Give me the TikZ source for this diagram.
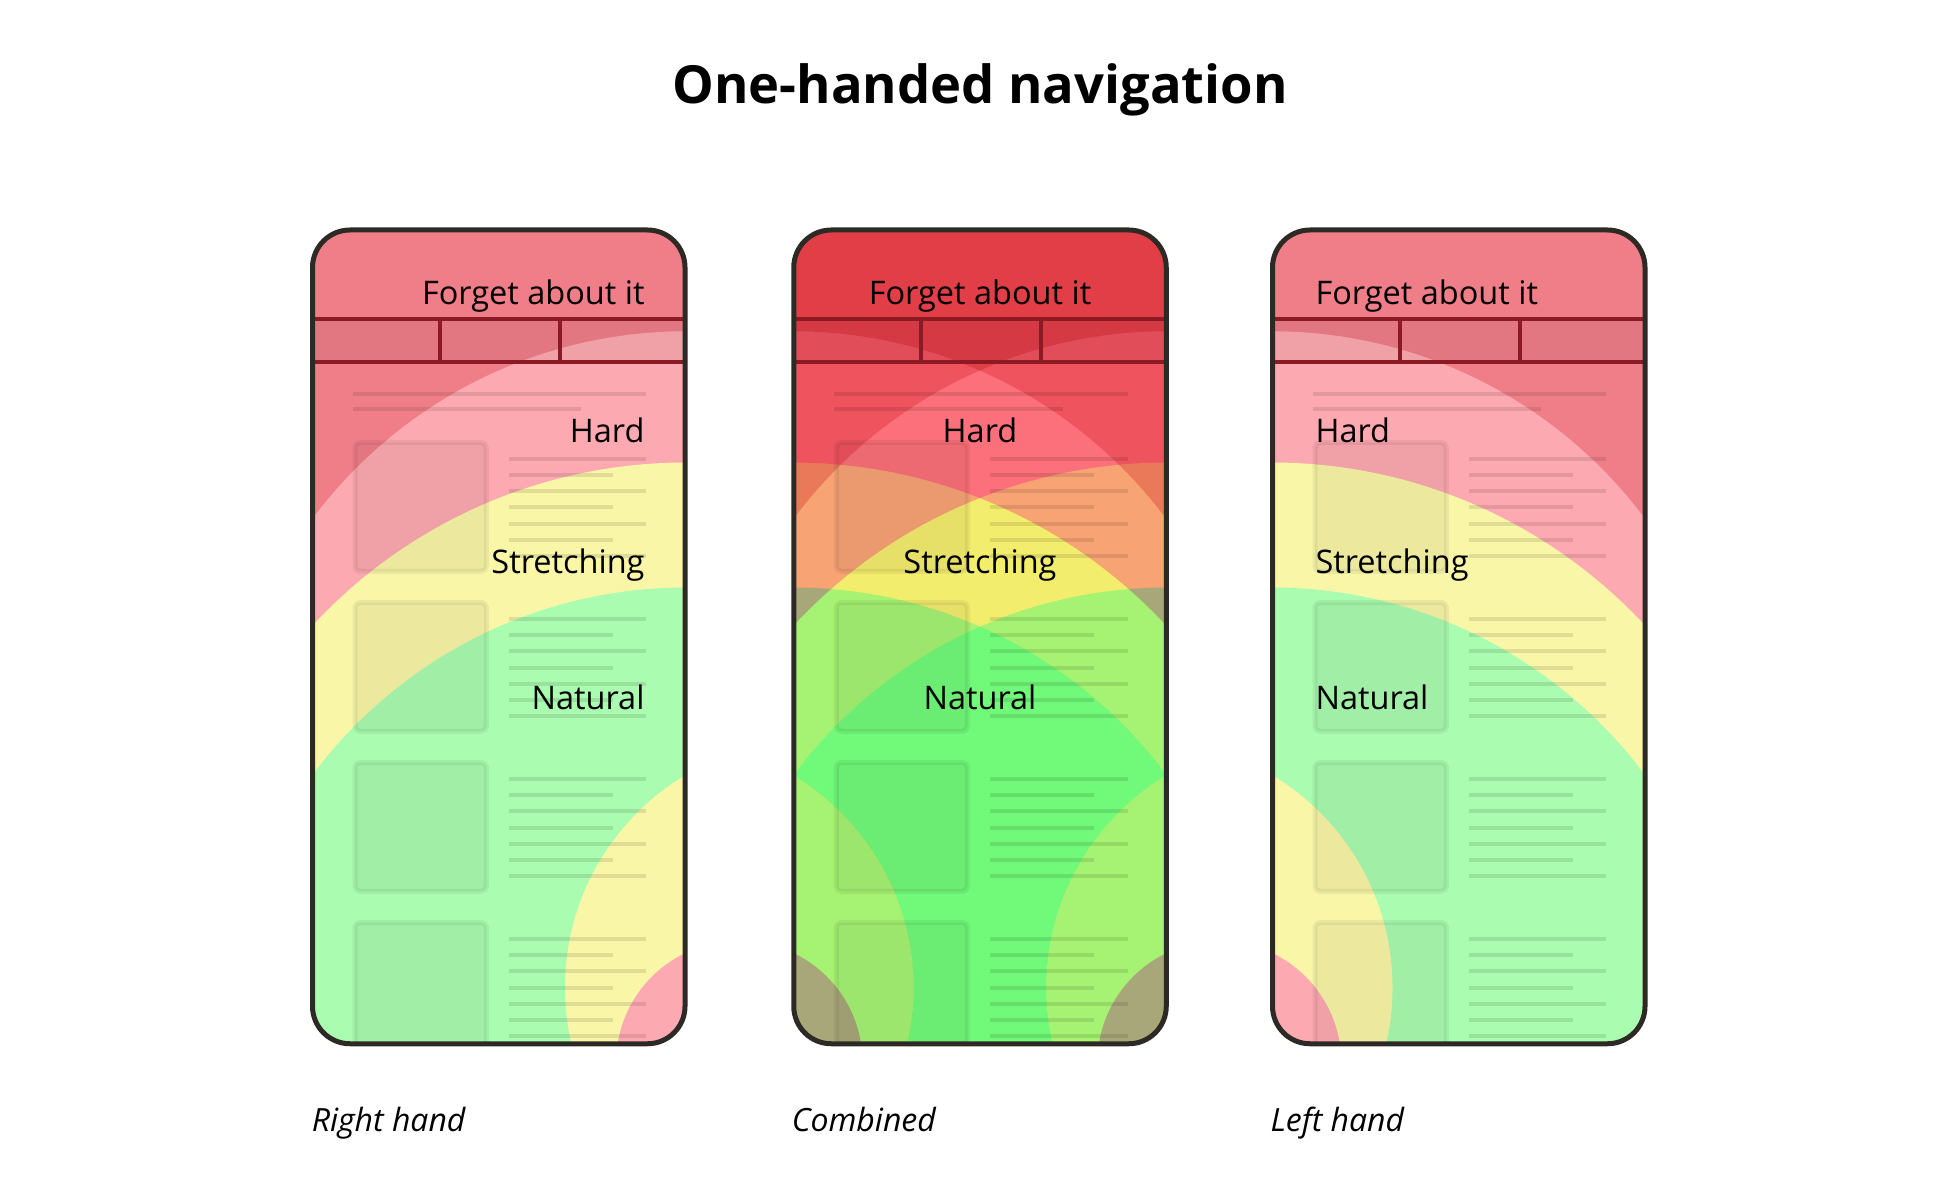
\documentclass[tikz,border=0pt]{standalone}
\usepackage{fontspec}
\setmainfont{Open Sans}
\definecolor{zred}{HTML}{F07E88}
\definecolor{zpink}{HTML}{FDA9B1}
\definecolor{zyel}{HTML}{F9F6A8}
\definecolor{zgreen}{HTML}{AAFCB0}
\definecolor{frame}{HTML}{2D2A26}
\definecolor{hdr}{HTML}{8B1A24}
\tikzset{
 ln/.style={line width=1.6pt, draw=black, draw opacity=0.1},
 bx/.style={fill=black, fill opacity=0.05, draw=black, draw opacity=0.06, line width=2pt, rounded corners=2},
 hdrline/.style={line width=1.6pt, draw=hdr},
 lbl/.style={font=\fontsize{13}{15}\selectfont, inner sep=0pt},
 captxt/.style={font=\fontsize{12.8}{15}\selectfont\itshape, inner sep=0pt, anchor=base west},
 phoneframe/.style={line width=2pt, draw=frame, rounded corners=15},
 mult/.style={blend mode=multiply, even odd rule}
}
\newcommand\zonesRight{%
 \fill[zred] (250,184) rectangle (548,835);
 \fill[zpink] (549,638) circle (373);
 \fill[zyel] (549,778) circle (408);
 \fill[zgreen] (549,843) circle (373);
 \fill[zyel] (650,790) circle (198);
 \fill[zpink] (590,850) circle (97);}
\newcommand\zonesLeft{%
 \fill[zred] (250,184) rectangle (548,835);
 \fill[zpink] (249,638) circle (373);
 \fill[zyel] (249,778) circle (408);
 \fill[zgreen] (249,843) circle (373);
 \fill[zyel] (148,790) circle (198);
 \fill[zpink] (208,850) circle (97);}
\newcommand\zonesLeftMult{%
 \fill[zred,mult] (240,174) rectangle (558,845) (249,638) circle (373);
 \begin{scope}
  \clip (249,638) circle (373);
  \fill[zpink,mult] (240,174) rectangle (558,845) (249,778) circle (408);
 \end{scope}
 \begin{scope}
  \clip (249,778) circle (408);
  \fill[zyel,mult] (240,174) rectangle (558,845) (249,843) circle (373);
 \end{scope}
 \begin{scope}
  \clip (249,843) circle (373);
  \fill[zgreen,mult] (240,174) rectangle (558,845) (148,790) circle (198);
 \end{scope}
 \begin{scope}
  \clip (148,790) circle (198);
  \fill[zyel,mult] (40,174) rectangle (558,1045) (208,850) circle (97);
 \end{scope}
 \fill[zpink,blend mode=multiply] (208,850) circle (97);}
\newcommand\phoneContent{%
 \fill[black,opacity=0.05] (250,255) rectangle (548,290);
 \draw[hdrline] (250,255)--(548,255) (250,290)--(548,290) (352,255)--(352,290) (448,255)--(448,290);
 \draw[ln] (282,315)--(517,315) (282,327)--(465,327);
 \foreach \k in {0,1,2,3}{%
   \draw[bx] (284,{354+128*\k}) rectangle (389,{457+128*\k});
   \foreach \j in {0,2,4,6}{\draw[ln] (407,{367+13*\j+128*\k})--(517,{367+13*\j+128*\k});}
   \foreach \j in {1,3,5}{\draw[ln] (407,{367+13*\j+128*\k})--(490,{367+13*\j+128*\k});}
 }}
\begin{document}
\begin{tikzpicture}[x=0.5pt,y=0.5pt,yscale=-1]
\useasboundingbox (0,0) rectangle (1552,946);
\node[font=\fontsize{21}{25}\selectfont\bfseries, inner sep=0pt] (title) at (784,72) {One-handed navigation};
% right hand
\begin{scope}
 \begin{scope}
  \clip[rounded corners=15] (250,184) rectangle (548,835);
  \zonesRight
  \phoneContent
 \end{scope}
 \draw[phoneframe] (250,184) rectangle (548,835);
 \node[lbl, anchor=east] (r1) at (516,237) {Forget about it};
 \node[lbl, anchor=east] (r2) at (516,344) {Hard};
 \node[lbl, anchor=east] (r3) at (516,452) {Stretching};
 \node[lbl, anchor=east] (r4) at (516,558) {Natural};
 \node[captxt] (rc) at (249,905) {Right hand};
\end{scope}
% combined
\begin{scope}[xshift=192.5pt]
 \begin{scope}
  \clip[rounded corners=15] (250,184) rectangle (548,835);
  \zonesRight
  \zonesLeftMult
  \phoneContent
 \end{scope}
 \draw[phoneframe] (250,184) rectangle (548,835);
 \node[lbl] (c1) at (399,237) {Forget about it};
 \node[lbl] (c2) at (399,344) {Hard};
 \node[lbl] (c3) at (399,452) {Stretching};
 \node[lbl] (c4) at (399,558) {Natural};
 \node[captxt] (cc) at (248,905) {Combined};
\end{scope}
% left hand
\begin{scope}[xshift=384pt]
 \begin{scope}
  \clip[rounded corners=15] (250,184) rectangle (548,835);
  \zonesLeft
  \phoneContent
 \end{scope}
 \draw[phoneframe] (250,184) rectangle (548,835);
 \node[lbl, anchor=west] (l1) at (284,237) {Forget about it};
 \node[lbl, anchor=west] (l2) at (284,344) {Hard};
 \node[lbl, anchor=west] (l3) at (284,452) {Stretching};
 \node[lbl, anchor=west] (l4) at (284,558) {Natural};
 \node[captxt] (lc) at (248,905) {Left hand};
\end{scope}
\end{tikzpicture}
\end{document}
